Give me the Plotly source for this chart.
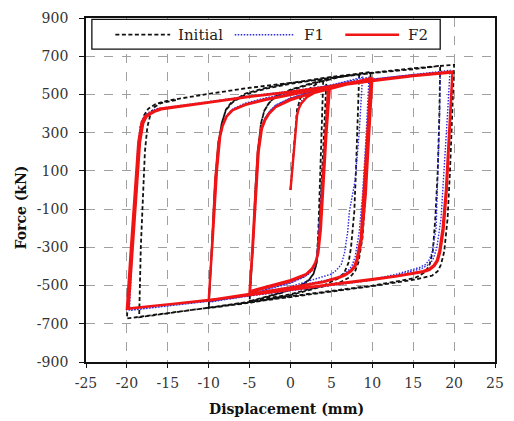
import plotly.graph_objects as go

# ---------------- data (displacement mm, force kN) ----------------
initial_path = [
    (0, 0), (0.4, 220), (0.8, 420), (1.2, 480), (2, 520), (3, 550), (4.0, 578),
    (3.8, 300), (3.6, 0), (3.4, -220), (3.2, -380), (2.8, -440), (2.2, -472), (1, -505), (-1, -535), (-3, -560), (-5, -582),
    (-4.6, -300), (-4.3, 0), (-4.0, 200), (-3.6, 350), (-3.2, 415), (-2.6, 458), (-1.8, 490), (0, 525), (2, 552), (4.4, 580),
    (4.1, 300), (3.8, 0), (3.5, -230), (3.2, -385), (2.8, -440), (2.2, -475), (1, -507), (-1, -537), (-3, -562), (-5, -585),
    (-4.6, -300), (-4.3, 0), (-4.0, 200), (-3.6, 350), (-3.2, 415), (-2.6, 456), (-1.8, 488), (0, 522), (3, 560), (6, 590), (8.4, 607),
    (8.2, 300), (8.0, 100), (7.8, -112), (7.4, -300), (7.1, -380), (6.6, -430), (6, -460), (4, -500), (0, -545), (-5, -585), (-10, -616),
    (-9.6, -300), (-9.2, 50), (-8.8, 250), (-8.4, 350), (-7.9, 420), (-7.2, 460), (-5.5, 505), (-3, 535), (0, 560), (5, 592), (9.8, 617),
    (9.5, 300), (9.2, 0), (8.8, -250), (8.3, -380), (7.9, -425), (7.3, -455), (6, -485), (3, -515), (0, -550), (-5, -590), (-10, -618),
    (-9.6, -300), (-9.2, 50), (-8.8, 250), (-8.4, 350), (-7.9, 418), (-7.1, 458), (-5.5, 500), (-3, 530), (0, 556), (5, 588), (10, 614), (15, 637), (20, 655),
    (19.8, 400), (19.5, 100), (19.2, -150), (18.8, -320), (18.4, -390), (18.0, -425), (17.3, -448), (16.3, -460), (15.3, -468), (13, -483), (10, -503), (0, -560), (-10, -617), (-20, -672),
    (-19.6, -400), (-19.0, -100), (-18.6, 150), (-18.3, 320), (-17.9, 390), (-17.4, 425), (-16.5, 450), (-15, 468), (-10, 503), (-5, 535), (0, 560), (5, 587), (10, 612), (15, 632), (18.3, 650),
    (18.2, 400), (18.0, 100), (17.7, -150), (17.4, -320), (17.0, -390), (16.5, -428), (15.6, -452), (15.2, -460), (13, -478), (10, -500), (0, -556), (-10, -614), (-18.5, -666),
    (-18.3, -300), (-18.0, 0), (-17.8, 200), (-17.5, 330), (-17.1, 400), (-16.6, 435), (-15.8, 455), (-14, 470),
]

f1_path = [
    (0, 0), (0.4, 200), (0.8, 400), (1.2, 460), (2, 495), (3, 520), (4.8, 548),
    (4.3, 250), (3.9, 0), (3.6, -210), (3.3, -350), (2.9, -405), (2.3, -438), (1.6, -455), (0, -485), (-2, -508), (-5, -545),
    (-4.6, -300), (-4.2, 0), (-3.9, 200), (-3.5, 330), (-3.1, 378), (-2.5, 415), (-1.8, 445), (0, 482), (2, 508), (4.6, 540),
    (4.2, 250), (3.8, 0), (3.5, -215), (3.2, -352), (2.8, -405), (2.2, -440), (1.6, -457), (0, -487), (-2, -510), (-5, -547),
    (-4.6, -300), (-4.2, 0), (-3.9, 200), (-3.5, 330), (-3.1, 378), (-2.5, 413), (-1.8, 443), (0, 480), (3, 522), (6, 560), (8.8, 590),
    (8.4, 300), (7.9, 50), (7.2, -112), (7.0, -215), (6.6, -330), (6.2, -390), (5.6, -420), (5, -440), (2, -480), (0, -505), (-5, -550), (-10, -585),
    (-9.5, -250), (-9.0, 100), (-8.6, 280), (-8.2, 345), (-7.7, 395), (-7, 425), (-5.5, 455), (-3, 482), (0, 507), (5, 550), (9.6, 590),
    (9.2, 250), (8.8, -30), (8.4, -220), (7.9, -350), (7.5, -398), (7.0, -425), (5.5, -462), (2, -492), (0, -517), (-5, -554), (-10, -587),
    (-9.6, -300), (-9.2, 50), (-8.8, 250), (-8.4, 330), (-7.9, 385), (-7.2, 420), (-5.5, 452), (-3, 480), (0, 505), (5, 545), (10, 580), (15, 605), (19.5, 626),
    (19.2, 400), (18.8, 100), (18.4, -150), (17.9, -300), (17.5, -355), (17.1, -385), (16.5, -402), (16.0, -412), (13, -445), (10, -472), (0, -527), (-10, -582), (-19.7, -630),
    (-19.4, -350), (-19.0, -50), (-18.7, 200), (-18.4, 330), (-18.1, 370), (-17.7, 395), (-17.1, 412), (-16.4, 425), (-10, 462), (-5, 492), (0, 517), (5, 550), (10, 580), (15, 603), (18.3, 615),
    (18.2, 350), (18.0, 50), (17.8, -200), (17.3, -330), (16.9, -370), (16.5, -390), (15.8, -405), (13, -440), (10, -468), (0, -525), (-10, -582), (-19.5, -628),
]

f2_path = [
    (0, 0), (0.4, 200), (0.8, 390), (1.0, 425), (1.3, 452), (2, 485), (3, 510), (4.6, 535),
    (4.2, 260), (3.9, 0), (3.6, -200), (3.3, -340), (3.0, -385), (2.6, -420), (1.8, -445), (0, -478), (-2, -500), (-3.5, -518), (-5, -535),
    (-4.6, -300), (-4.2, 0), (-3.9, 200), (-3.5, 320), (-3.1, 365), (-2.6, 400), (-1.8, 435), (0, 475), (2, 500), (4.8, 532),
    (4.4, 300), (4.0, 0), (3.7, -210), (3.4, -330), (3.1, -375), (2.6, -412), (1.9, -440), (0, -472), (-2, -496), (-5, -530),
    (-4.7, -330), (-4.3, 0), (-4.0, 200), (-3.6, 320), (-3.2, 362), (-2.7, 398), (-1.9, 432), (0, 470), (2, 498), (5, 530), (7.5, 560), (9.8, 585),
    (9.4, 300), (9.0, 0), (8.6, -250), (8.1, -360), (7.8, -398), (7.4, -420), (6.7, -442), (6, -455), (4, -480), (0, -510), (-5, -545), (-10, -577),
    (-9.5, -250), (-9.0, 100), (-8.6, 280), (-8.3, 335), (-7.8, 385), (-7, 420), (-5.5, 448), (-3, 475), (0, 500), (5, 545), (10, 583),
    (9.6, 280), (9.2, -20), (8.7, -260), (8.2, -365), (7.9, -402), (7.4, -425), (6.7, -446), (6, -458), (4, -482), (0, -512), (-5, -547), (-10, -579),
    (-9.6, -300), (-9.2, 50), (-8.8, 250), (-8.4, 325), (-7.9, 380), (-7.2, 415), (-5.5, 445), (-3, 472), (0, 498), (5, 540), (10, 575), (15, 600), (19.8, 620),
    (19.4, 300), (19.0, 0), (18.6, -200), (18.2, -320), (17.9, -368), (17.5, -395), (16.9, -414), (16.2, -425), (13, -450), (10, -467), (0, -520), (-10, -575), (-20, -622),
    (-19.5, -300), (-19.0, 0), (-18.6, 250), (-18.2, 355), (-17.8, 385), (-17.3, 400), (-16.6, 415), (-16, 425), (-10, 460), (-5, 490), (0, 515), (5, 545), (10, 572), (15, 598), (19.8, 618),
    (19.5, 350), (19.1, 0), (18.7, -210), (18.3, -325), (18.0, -370), (17.6, -398), (17.0, -418), (16.3, -428), (13, -452), (10, -470), (0, -522), (-10, -577), (-19.8, -620),
    (-19.3, -300), (-18.8, 0), (-18.4, 250), (-18.0, 350), (-17.6, 383), (-17.1, 398), (-16.5, 412), (-15.8, 422), (-10, 458), (-5, 488), (0, 512), (5, 542), (10, 570), (15, 596), (19.7, 615),
]

series_names = ["Initial", "F1", "F2"]
x_ticks = [-25, -20, -15, -10, -5, 0, 5, 10, 15, 20, 25]
y_ticks = [-900, -700, -500, -300, -100, 100, 300, 500, 700, 900]

FONT = "DejaVu Serif"

styles = {
    "Initial": dict(color="#111111", width=1.8, dash="4px,2.5px"),
    "F1": dict(color="#2a2ae0", width=1.4, dash="1.5px,1.5px"),
    "F2": dict(color="#f01414", width=2.4, dash="solid"),
}

fig = go.Figure()
for name, path in zip(series_names, [initial_path, f1_path, f2_path]):
    xs = [p[0] for p in path]
    ys = [p[1] for p in path]
    fig.add_trace(go.Scatter(x=xs, y=ys, mode="lines", name=name, showlegend=False,
                             line=dict(shape="linear", **styles[name])))

# ---- hand-made legend box (paper coords = plot area) ----
def px_x(p):
    return (p - 86) / 418.0

def px_y(p):
    return (362 - p) / 346.3

shapes = [dict(type="rect", xref="paper", yref="paper",
               x0=px_x(92), x1=px_x(448), y0=px_y(47), y1=px_y(17),
               line=dict(color="#111", width=1.3), fillcolor="white", layer="above")]
annotations = []
legend_slots = [("Initial", 116, 172, 178), ("F1", 238, 299, 307), ("F2", 351, 406, 413)]
for name, a, b, t in legend_slots:
    st = styles[name]
    shapes.append(dict(type="line", xref="paper", yref="paper",
                       x0=px_x(a), x1=px_x(b), y0=px_y(32.5), y1=px_y(32.5), layer="above",
                       line=dict(color=st["color"], width=st["width"], dash=st["dash"])))
    annotations.append(dict(text=name, xref="paper", yref="paper", x=px_x(t), y=px_y(32.5),
                            xanchor="left", yanchor="middle", showarrow=False,
                            font=dict(family=FONT, size=15, color="#222")))

annotations.append(dict(text="<b>Displacement (mm)</b>", xref="paper", yref="paper",
                        x=px_x(290.5), y=px_y(409), xanchor="center", yanchor="middle",
                        showarrow=False, font=dict(family=FONT, size=14, color="#111")))
annotations.append(dict(text="<b>Force (kN)</b>", xref="paper", yref="paper",
                        x=px_x(20), y=px_y(206), xanchor="center", yanchor="middle", textangle=-90,
                        showarrow=False, font=dict(family=FONT, size=14, color="#111")))

fig.update_layout(
    width=514, height=421,
    margin=dict(l=86, r=10, t=16, b=59),
    paper_bgcolor="white", plot_bgcolor="white",
    font=dict(family=FONT, size=14, color="#222"),
    showlegend=False,
    shapes=shapes, annotations=annotations,
)
fig.update_xaxes(range=[-25, 25], tickvals=x_ticks, ticktext=[str(v) for v in x_ticks],
                 ticks="outside", ticklen=4, ticklabelstandoff=3,
                 tickcolor="#111", showline=True, linecolor="#111", linewidth=1.8, mirror=True,
                 showgrid=True, gridcolor="#a0a0a0", griddash="dash", gridwidth=1,
                 zeroline=False,
                 tickfont=dict(family=FONT, size=14, color="#333"))
fig.update_yaxes(range=[-900, 900], tickvals=y_ticks, ticktext=[str(v) for v in y_ticks],
                 ticks="outside", ticklen=5, ticklabelstandoff=8,
                 tickcolor="#111", showline=True, linecolor="#111", linewidth=1.8, mirror=True,
                 showgrid=True, gridcolor="#a0a0a0", griddash="dash", gridwidth=1,
                 zeroline=False,
                 tickfont=dict(family=FONT, size=14, color="#333"))

fig.write_html("out.html")
